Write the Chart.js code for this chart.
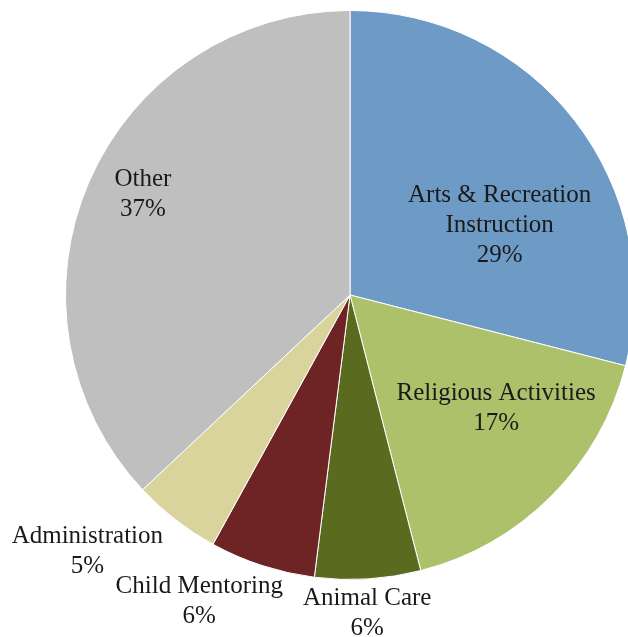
<!DOCTYPE html>
<html>
<head>
<meta charset="utf-8">
<script src="https://cdn.jsdelivr.net/npm/chart.js@4/dist/chart.umd.min.js"></script>
<style>
  html, body { margin: 0; padding: 0; background: #ffffff; overflow: hidden; }
  #wrap { position: relative; width: 700px; height: 637px; }
</style>
</head>
<body>
<div id="wrap"><canvas id="chart" width="700" height="637"></canvas></div>
<script>
// Volunteer activity shares (percent)
const categories = ['Arts & Recreation\nInstruction', 'Religious Activities', 'Animal Care', 'Child Mentoring', 'Administration', 'Other'];
const shares = [29, 17, 6, 6, 5, 37];
const sliceColors = ['#6e9bc5', '#adc06a', '#5a6b1f', '#6e2424', '#d8d49c', '#bfbfbf'];

// Label placement per slice: radius as a fraction of the pie radius, angular nudge in degrees
const labelRadius = [0.58, 0.65, 1.12, 1.20, 1.29, 0.81];
const labelNudge = [12.9, -7.2, 0.5, 8.2, 7.9, 2.6];

const sliceLabels = {
  id: 'sliceLabels',
  afterDatasetsDraw(chart) {
    const ctx = chart.ctx;
    const meta = chart.getDatasetMeta(0);
    ctx.save();
    ctx.font = '25px "Liberation Serif", "DejaVu Serif", serif';
    ctx.fillStyle = '#1a1a1a';
    ctx.textAlign = 'center';
    ctx.textBaseline = 'middle';
    meta.data.forEach((arc, i) => {
      const p = arc.getProps(['x', 'y', 'startAngle', 'endAngle', 'outerRadius'], true);
      const mid = (p.startAngle + p.endAngle) / 2 + labelNudge[i] * Math.PI / 180;
      const r = p.outerRadius * labelRadius[i];
      const cx = p.x + Math.cos(mid) * r;
      const cy = p.y + Math.sin(mid) * r;
      const lines = categories[i].split('\n').concat([shares[i] + '%']);
      const lh = 30;
      const top = cy - (lines.length - 1) * lh / 2;
      lines.forEach((t, k) => ctx.fillText(t, cx, top + k * lh));
    });
    ctx.restore();
  }
};

new Chart(document.getElementById('chart'), {
  type: 'pie',
  data: {
    labels: categories,
    datasets: [{
      data: shares,
      backgroundColor: sliceColors,
      borderColor: '#ffffff',
      borderWidth: 1
    }]
  },
  options: {
    responsive: false,
    animation: false,
    layout: { padding: { left: 65, right: 65, top: 10, bottom: 57 } },
    plugins: {
      legend: { display: false },
      tooltip: { enabled: false }
    }
  },
  plugins: [sliceLabels]
});
</script>
</body>
</html>
